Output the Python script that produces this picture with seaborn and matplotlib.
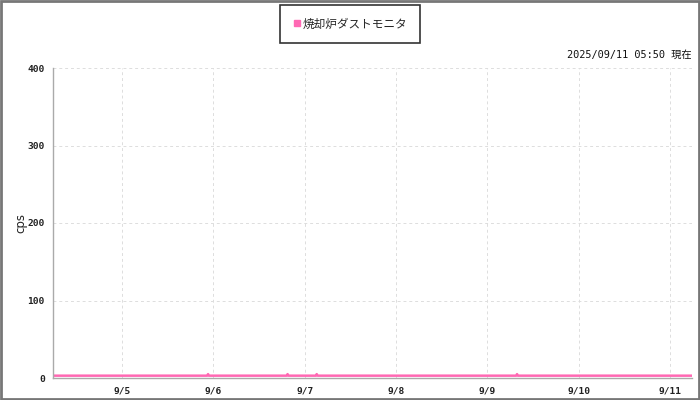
import pandas as pd
import seaborn as sns
import matplotlib.pyplot as plt
from matplotlib.patches import Rectangle

# readings (cps) - flat baseline with a few small blips
times = ["2025-09-04 05:50", "2025-09-05 22:20", "2025-09-05 22:36", "2025-09-05 22:50",
         "2025-09-06 19:15", "2025-09-06 19:30", "2025-09-06 19:45",
         "2025-09-07 02:55", "2025-09-07 03:10", "2025-09-07 03:25",
         "2025-09-09 07:35", "2025-09-09 07:50", "2025-09-09 08:05",
         "2025-09-11 05:50"]
values = [3, 3, 5, 3, 3, 5, 3, 3, 5, 3, 3, 5, 3, 3]
series_name = "焼却炉ダストモニタ"
tick_days = ["2025-09-05", "2025-09-06", "2025-09-07", "2025-09-08",
             "2025-09-09", "2025-09-10", "2025-09-11"]
tick_labels = ["9/5", "9/6", "9/7", "9/8", "9/9", "9/10", "9/11"]
y_ticks = [0, 100, 200, 300, 400]
stamp = "2025/09/11 05:50 現在"

df = pd.DataFrame({"time": pd.to_datetime(times), "cps": values})

sns.set_style("white")
plt.rcParams['font.family'] = ['DejaVu Sans Mono', 'Noto Sans CJK JP']

fig = plt.figure(figsize=(7, 4), dpi=100)
ax = fig.add_axes([53/700, 22/400, 639/700, 310/400])

pink = "#ff69b4"
sns.lineplot(data=df, x="time", y="cps", ax=ax, color=pink, linewidth=1.8)

ax.set_xlim(pd.Timestamp("2025-09-04 05:50"), pd.Timestamp("2025-09-11 05:50"))
ax.set_ylim(0, 400)
ax.set_xticks(pd.to_datetime(tick_days))
ax.set_xticklabels(tick_labels)
ax.set_yticks(y_ticks)
ax.tick_params(axis="both", labelsize=6.8, colors="#aaaaaa", labelcolor="#222222",
               length=3, width=0.8, pad=3)
for lab in ax.get_xticklabels() + ax.get_yticklabels():
    lab.set_fontweight("bold")
ax.grid(True, color="#dddddd", linestyle=(0, (3, 3)), linewidth=0.7)
for side in ["top", "right"]:
    ax.spines[side].set_visible(False)
for side in ["left", "bottom"]:
    ax.spines[side].set_color("#aaaaaa")
    ax.spines[side].set_linewidth(1)
ax.set_xlabel("")
ax.set_ylabel("")
fig.text(21/700, 1 - 223/400, "cps", rotation=90, ha="center", va="center",
         fontsize=8.5, family=["DejaVu Sans"], color="#222222")

# time stamp above the plot
fig.text(692/700, 1 - 55/400, stamp, ha="right", va="center", fontsize=7.4, color="#111111")

# legend box
leg = ax.legend([plt.Line2D([], [], marker="s", color=pink, linestyle="none", markersize=4.5)],
                [series_name], loc="center", bbox_to_anchor=(350/700, 1 - 24/400),
                bbox_transform=fig.transFigure, frameon=True, fancybox=False,
                prop={"family": ["Noto Sans CJK JP"], "size": 8.4},
                handletextpad=0.1, handlelength=0.8, borderpad=1.1, borderaxespad=0)
leg.get_frame().set_edgecolor("black")
leg.get_frame().set_linewidth(1.2)

# outer frame
fig.patches.append(Rectangle((0.001, 0.002), 0.997, 0.996, transform=fig.transFigure,
                             fill=False, edgecolor="#777777", linewidth=2))

fig.savefig("out.png", dpi=100)
